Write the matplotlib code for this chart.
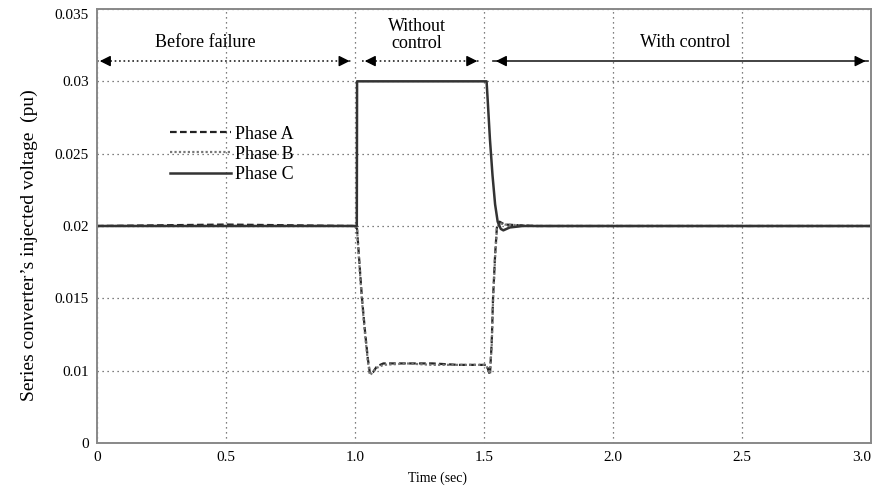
import matplotlib.pyplot as plt
import numpy as np

plt.rcParams['font.family'] = ['Liberation Serif', 'DejaVu Serif']

# Phase A / B (they overlap almost completely)
t_ab = [0, 0.5, 1.0, 1.008, 1.015, 1.027, 1.04, 1.05, 1.058, 1.07, 1.085, 1.11,
        1.2, 1.3, 1.4, 1.5, 1.51, 1.523, 1.53, 1.535, 1.543, 1.55, 1.56, 1.58,
        1.7, 2.0, 2.5, 3.0]
phase_a = [0.0200, 0.0201, 0.0200, 0.0198, 0.0180, 0.0150, 0.0125, 0.0108, 0.0098,
           0.0099, 0.0103, 0.0105, 0.0105, 0.0105, 0.0104, 0.0104, 0.0104, 0.0097,
           0.0120, 0.0150, 0.0180, 0.0199, 0.0203, 0.0201, 0.0200, 0.0200, 0.0200, 0.0200]
phase_b = [0.0200, 0.0200, 0.0200, 0.0197, 0.0178, 0.0148, 0.0123, 0.0106, 0.0097,
           0.0099, 0.0102, 0.0104, 0.0105, 0.0104, 0.0104, 0.0104, 0.0103, 0.0098,
           0.0118, 0.0148, 0.0178, 0.0198, 0.0202, 0.0201, 0.0200, 0.0200, 0.0200, 0.0200]

# Phase C
t_c = [0, 0.5, 1.007, 1.008, 1.2, 1.4, 1.51, 1.515, 1.523, 1.533, 1.543, 1.553,
       1.565, 1.575, 1.6, 1.65, 2.0, 2.5, 3.0]
phase_c = [0.0200, 0.0200, 0.0200, 0.0300, 0.0300, 0.0300, 0.0300, 0.0285, 0.0260,
           0.0235, 0.0215, 0.0203, 0.0198, 0.0197, 0.0199, 0.0200, 0.0200, 0.0200, 0.0200]

xticks = [0, 0.5, 1.0, 1.5, 2.0, 2.5, 3.0]
xtick_labels = ['0', '0.5', '1.0', '1.5', '2.0', '2.5', '3.0']
yticks = [0.005, 0.01, 0.015, 0.02, 0.025, 0.03, 0.035]
ytick_labels = ['0', '0.01', '0.015', '0.02', '0.025', '0.03', '0.035']

fig = plt.figure(figsize=(8.74, 4.91), dpi=100)
ax = fig.add_axes([97 / 874, 48 / 491, 774 / 874, 434 / 491])

ax.plot(t_ab, phase_a, color='#222222', ls=(0, (3, 1.5)), lw=1.6, label='Phase A')
ax.plot(t_ab, phase_b, color='#777777', ls=(0, (1, 1)), lw=1.6, label='Phase B')
ax.plot(t_c, phase_c, color='#333333', ls='-', lw=1.8, label='Phase C')

ax.set_xlim(0, 3.0)
ax.set_ylim(0.005, 0.035)
ax.set_xticks(xticks)
ax.set_xticklabels(xtick_labels)
ax.set_yticks(yticks)
ax.set_yticklabels(ytick_labels)
ax.tick_params(length=0, labelsize=11, pad=6)
ax.get_xticklabels()[-1].set_ha('right')
ax.get_yticklabels()[-1].set_va('top')
ax.grid(True, color='#555555', ls=(0, (1, 3)), lw=0.9)
for sp in ax.spines.values():
    sp.set_color('#888888')
    sp.set_linewidth(1.4)

ax.set_xlabel('Time (sec)', fontsize=10)
ax.xaxis.set_label_coords(0.44, -0.066)
ax.set_ylabel('Series converter\u2019s injected voltage  (pu)', fontsize=14)
ax.yaxis.set_label_coords(-0.076, 0.456)

leg = ax.legend(loc='upper left', bbox_to_anchor=(0.094, 0.731), frameon=False,
                fontsize=13, handlelength=3.4, handletextpad=0.2,
                labelspacing=0.17, borderpad=0, borderaxespad=0)

# period annotations
ya = 0.0314
segments = [(0.0, 0.99, ':'), (1.027, 1.485, ':'), (1.535, 2.99, '-')]
for x0, x1, ls in segments:
    ax.plot([x0, x1], [ya, ya], color='#222222', ls=ls, lw=1.2, clip_on=False)
    ax.annotate('', xy=(x0, ya), xytext=(x0 + 0.06, ya),
                arrowprops=dict(arrowstyle='-|>', color='k', lw=1, mutation_scale=16),
                annotation_clip=False)
    ax.annotate('', xy=(x1, ya), xytext=(x1 - 0.06, ya),
                arrowprops=dict(arrowstyle='-|>', color='k', lw=1, mutation_scale=16),
                annotation_clip=False)

ax.text(0.42, 0.0327, 'Before failure', ha='center', va='center', fontsize=13)
ax.text(1.24, 0.0332, 'Without\ncontrol', ha='center', va='center', fontsize=13,
        linespacing=1.05)
ax.text(2.28, 0.0327, 'With control', ha='center', va='center', fontsize=13)

fig.savefig('out.png', dpi=100)
